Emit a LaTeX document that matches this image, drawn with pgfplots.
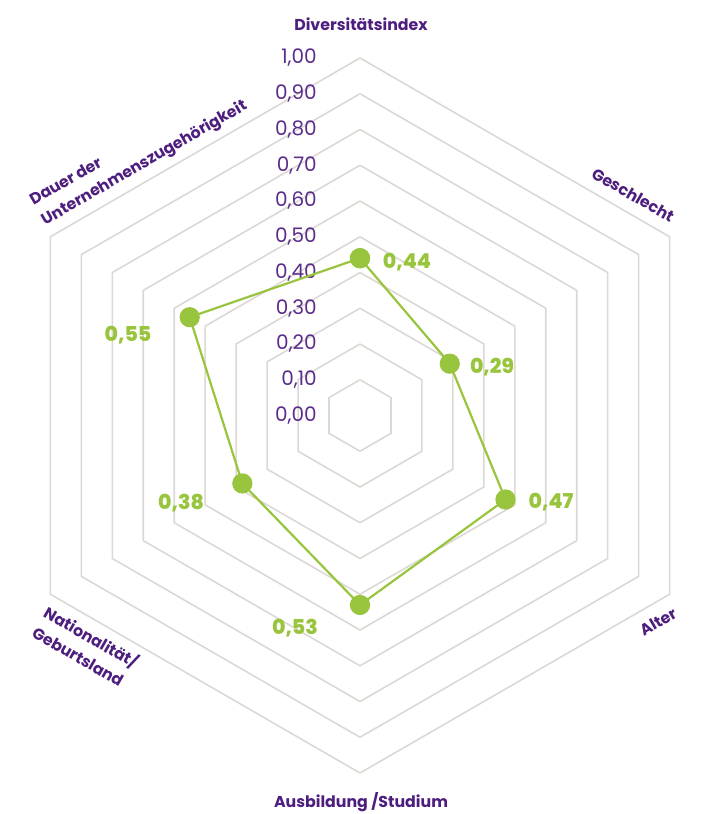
\documentclass[border=0pt]{standalone}
\usepackage{fontspec}
\setmainfont{Poppins}
\newfontfamily\tickfont{Poppins}
\newfontfamily\boldfont{Poppins Bold}
\newfontfamily\xboldfont{Poppins ExtraBold}
\usepackage{pgfplots}
\pgfplotsset{compat=1.18}
\definecolor{gridc}{HTML}{DCD8D4}
\definecolor{lbl}{HTML}{4E1E7E}
\definecolor{tickc}{HTML}{5B2D8A}
\definecolor{grn}{HTML}{98C53D}
\begin{document}
\begin{tikzpicture}
\useasboundingbox (-360pt,-398.5pt) rectangle (342pt,415.5pt);
\begin{axis}[x=357.5pt, y=357.5pt, xmin=-1, xmax=1, ymin=-1, ymax=1,
  hide axis, clip=false, anchor=origin, at={(0pt,0pt)}]
\pgfplotsinvokeforeach{0.1,0.2,0.3,0.4,0.5,0.6,0.7,0.8,0.9,1.0}{
  \addplot[data cs=polar, gridc, line width=1.6pt, no markers, line join=miter]
    coordinates {(90,#1) (30,#1) (-30,#1) (-90,#1) (-150,#1) (150,#1) (90,#1)};
}
\end{axis}
\foreach \v/\t in {0/{0,00},1/{0,10},2/{0,20},3/{0,30},4/{0,40},5/{0,50},6/{0,60},7/{0,70},8/{0,80},9/{0,90},10/{1,00}}{
  \node[anchor=east, text=tickc, font=\tickfont\fontsize{20}{20}\selectfont, inner sep=0pt] at (-43pt,{\v*35.75pt}) {\t};
}
\begin{axis}[x=357.5pt, y=357.5pt, xmin=-1, xmax=1, ymin=-1, ymax=1,
  hide axis, clip=false, anchor=origin, at={(0pt,0pt)}]
\addplot[data cs=polar, grn, line width=2.2pt, mark=*, mark size=9pt, mark options={fill=grn, draw=grn, solid}]
  coordinates {(90,0.44) (30,0.29) (-30,0.47) (-90,0.53) (-150,0.38) (150,0.55) (90,0.44)};
\end{axis}
\begin{scope}[every node/.style={text=grn, font=\xboldfont\fontsize{20.5}{21}\selectfont, inner sep=0pt}]
\node at (47pt,153.5pt) {0,44};
\node at (132pt,48.5pt) {0,29};
\node at (191pt,-86.5pt) {0,47};
\node at (-65pt,-212.5pt) {0,53};
\node at (-179pt,-87.5pt) {0,38};
\node at (-232pt,80.5pt) {0,55};
\end{scope}
\begin{scope}[every node/.style={text=lbl, font=\boldfont\fontsize{15.8}{23}\selectfont, inner sep=0pt}]
\node at (1pt,391.5pt) {Diversitätsindex};
\node[rotate=-30] at (273pt,220.5pt) {Geschlecht};
\node[rotate=30] at (298pt,-206.5pt) {Alter};
\node at (1pt,-386.5pt) {Ausbildung /Studium};
\node[rotate=-30, align=left] at (-274pt,-230.5pt) {Nationalität/\\Geburtsland};
\node[rotate=30, align=left] at (-221pt,261.5pt) {Dauer der\\Unternehmenszugehörigkeit};
\end{scope}
\end{tikzpicture}
\end{document}
